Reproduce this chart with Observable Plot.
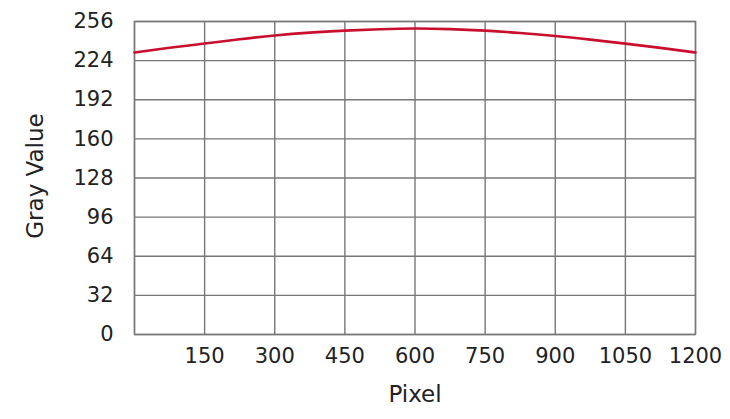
<!DOCTYPE html>
<html><head><meta charset="utf-8">
<script src="https://cdn.jsdelivr.net/npm/d3@7"></script>
<script src="https://cdn.jsdelivr.net/npm/@observablehq/plot@0.6"></script>
<style>body{margin:0;background:#fff;} </style>
</head><body><div id="chart"></div>
<script>
const pixels = [0, 75, 150, 225, 300, 375, 450, 525, 600, 675, 750, 825, 900, 975, 1050, 1125, 1200];
const grayValues = [230.6, 234.5, 238.0, 241.5, 244.6, 246.9, 248.5, 249.7, 250.3, 249.8, 248.5, 246.6, 244.2, 241.2, 237.9, 234.4, 230.6];
const xTicks = [150, 300, 450, 600, 750, 900, 1050, 1200];
const xGrid = [0, 150, 300, 450, 600, 750, 900, 1050, 1200];
const yTicks = [0, 32, 64, 96, 128, 160, 192, 224, 256];
const xLabel = "Pixel";
const yLabel = "Gray Value";

const data = pixels.map((p, i) => ({p, v: grayValues[i]}));
const gridColor = "#777";
const font = "'DejaVu Sans', sans-serif";

const chart = Plot.plot({
  width: 730, height: 419,
  marginLeft: 134, marginRight: 35, marginTop: 21, marginBottom: 85,
  style: {fontFamily: font, fontSize: "21px", color: "#222", background: "#fff"},
  x: {domain: [0, 1200]},
  y: {domain: [0, 256]},
  marks: [
    Plot.gridX(xGrid, {stroke: gridColor, strokeOpacity: 1, strokeWidth: 1.4}),
    Plot.gridY(yTicks, {stroke: gridColor, strokeOpacity: 1, strokeWidth: 1.4}),
    Plot.frame({stroke: gridColor, strokeWidth: 1.4}),
    Plot.axisX(xTicks, {tickSize: 0, tickPadding: 14, label: null, fontSize: 21, tickFormat: d => String(d)}),
    Plot.axisY(yTicks, {tickSize: 0, tickPadding: 21, label: null, fontSize: 21, tickFormat: d => String(d)}),
    Plot.text([xLabel], {frameAnchor: "bottom", dy: 67, text: d => d, fontSize: 23, fill: "#222"}),
    Plot.text([yLabel], {frameAnchor: "left", textAnchor: "middle", dx: -99, dy: -2, rotate: -90, text: d => d, fontSize: 23, fill: "#222"}),
    Plot.line(data, {x: "p", y: "v", stroke: "#c8102e", strokeWidth: 2.6, curve: "natural"})
  ]
});
document.getElementById("chart").appendChild(chart);
</script></body></html>
